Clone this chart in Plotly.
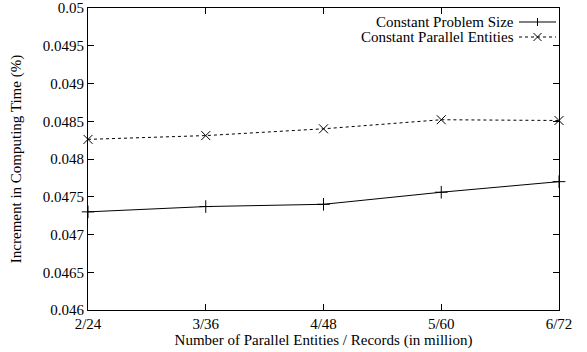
import plotly.graph_objects as go

categories = ["2/24", "3/36", "4/48", "5/60", "6/72"]
problem_size = [0.04730, 0.04737, 0.04740, 0.04756, 0.04770]
parallel_entities = [0.04826, 0.04831, 0.04840, 0.04852, 0.04851]
y_ticks = [0.046, 0.0465, 0.047, 0.0475, 0.048, 0.0485, 0.049, 0.0495, 0.05]
y_tick_labels = ["0.046", "0.0465", "0.047", "0.0475", "0.048", "0.0485", "0.049", "0.0495", "0.05"]
series_names = ["Constant Problem Size", "Constant Parallel Entities"]

xs = list(range(len(categories)))
FONT = "Liberation Serif, Times New Roman, serif"
FS = 15

fig = go.Figure()
fig.add_trace(go.Scatter(
    x=xs, y=problem_size, mode="lines+markers", name=series_names[0],
    line=dict(color="black", width=1),
    marker=dict(symbol="cross-thin", size=9, line=dict(color="black", width=1)),
    showlegend=False, cliponaxis=False,
))
fig.add_trace(go.Scatter(
    x=xs, y=parallel_entities, mode="lines+markers", name=series_names[1],
    line=dict(color="black", width=1, dash="dot"),
    marker=dict(symbol="x-thin", size=9, line=dict(color="black", width=1)),
    showlegend=False, cliponaxis=False,
))

# gnuplot-style legend (text right-aligned, sample on the right)
L, T, W, H = 88, 8, 471, 302
def px(x):
    return (x - L) / W
def py(y):
    return 1 - (y - T) / H

legend_rows = [(22, "solid", "cross"), (37, "dot", "x")]
for (yy, dash, mk), name in zip(legend_rows, series_names):
    fig.add_annotation(xref="paper", yref="paper", x=px(516), y=py(yy), text=name,
                       showarrow=False, xanchor="right", yanchor="middle",
                       font=dict(family=FONT, size=FS, color="black"))
    fig.add_shape(type="line", xref="paper", yref="paper", x0=px(519), x1=px(556),
                  y0=py(yy), y1=py(yy), line=dict(color="black", width=1, dash=dash))
    cx, cy = px(537.5), py(yy)
    dx, dy = 4 / W, 4 / H
    if mk == "cross":
        fig.add_shape(type="line", xref="paper", yref="paper", x0=cx, x1=cx,
                      y0=cy - dy, y1=cy + dy, line=dict(color="black", width=1))
    else:
        fig.add_shape(type="line", xref="paper", yref="paper", x0=cx - dx, x1=cx + dx,
                      y0=cy - dy, y1=cy + dy, line=dict(color="black", width=1))
        fig.add_shape(type="line", xref="paper", yref="paper", x0=cx - dx, x1=cx + dx,
                      y0=cy + dy, y1=cy - dy, line=dict(color="black", width=1))

fig.update_xaxes(
    range=[0, len(categories) - 1], tickvals=xs, ticktext=categories,
    showline=True, linecolor="black", linewidth=1, mirror="allticks",
    ticks="inside", ticklen=6, tickcolor="black", showgrid=False, zeroline=False,
    automargin=False,
    tickfont=dict(family=FONT, size=FS, color="black"),
    title=dict(text="Number of Parallel Entities / Records (in million)",
               font=dict(family=FONT, size=FS, color="black"), standoff=0),
)
fig.update_yaxes(
    range=[0.046, 0.05], tickvals=y_ticks, ticktext=y_tick_labels,
    showline=True, linecolor="black", linewidth=1, mirror="allticks",
    ticks="inside", ticklen=6, tickcolor="black", showgrid=False, zeroline=False,
    automargin=False,
    tickfont=dict(family=FONT, size=FS, color="black"),
    title=dict(text="Increment in Computing Time (%)",
               font=dict(family=FONT, size=FS, color="black"), standoff=17),
)
fig.update_layout(
    width=587, height=352,
    margin=dict(l=88, r=28, t=8, b=42),
    paper_bgcolor="white", plot_bgcolor="white",
    font=dict(family=FONT, size=FS, color="black"),
)
fig.write_html(
    "out.html",
    config={"displayModeBar": False},
    post_script="document.body.style.margin='0';document.body.style.padding='0';document.body.style.overflow='hidden';",
)
